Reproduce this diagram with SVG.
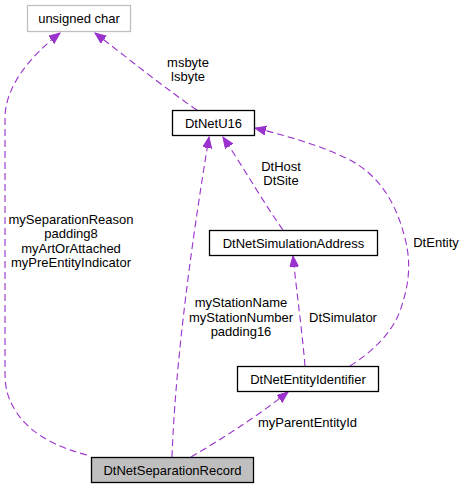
<svg xmlns="http://www.w3.org/2000/svg" width="467" height="488" viewBox="0 0 467 488">
<style>
text{font-family:"Liberation Sans",Arial,sans-serif;font-size:13px;fill:#000;}
.n{text-anchor:middle;}
.box{fill:#fff;stroke:#000;stroke-width:1.3;}
.e{fill:none;stroke:#9a32cd;stroke-width:1.1;stroke-dasharray:7,4;}
.l{text-anchor:middle;}
</style>
<defs>
<marker id="ah" markerWidth="12" markerHeight="10" refX="11" refY="4.5" orient="auto" markerUnits="userSpaceOnUse">
<polygon points="0,0 11,4.5 0,9" fill="#9a32cd" stroke="#9a32cd" stroke-width="1"/>
</marker>
</defs>
<rect width="467" height="488" fill="#fff"/>
<g id="connectors">
<path class="e" marker-end="url(#ah)" d="M87,455 C55,447 28,432 15,410 C6,395 5,385 5,370 L5,118 C5,88 28,58 60,33"/>
<path class="e" marker-end="url(#ah)" d="M197,110 C170,92 130,60 95,33"/>
<path class="e" marker-end="url(#ah)" d="M172,457 C174,400 182,300 209,137"/>
<path class="e" marker-end="url(#ah)" d="M283,230 C265,205 245,170 223,137"/>
<path class="e" marker-end="url(#ah)" d="M350,366 C372,352 392,333 400,311 C411,280 411,257 403,231 C395,203 380,176 350,160 C326,148 296,138 255,128"/>
<path class="e" marker-end="url(#ah)" d="M305,366 C302,330 297,295 293,256"/>
<path class="e" marker-end="url(#ah)" d="M191,457 C220,440 255,418 288,392"/>
<text class="l" x="71" y="223.5">mySeparationReason</text>
<text class="l" x="71" y="238">padding8</text>
<text class="l" x="71" y="252.5">myArtOrAttached</text>
<text class="l" x="71" y="267">myPreEntityIndicator</text>
<text class="l" x="188" y="66.5">msbyte</text>
<text class="l" x="188" y="80.5">lsbyte</text>
<text class="l" x="281" y="171">DtHost</text>
<text class="l" x="281" y="185">DtSite</text>
<text class="l" x="436" y="246.5">DtEntity</text>
<text class="l" x="343" y="321.5">DtSimulator</text>
<text class="l" x="241" y="307">myStationName</text>
<text class="l" x="241" y="321.5">myStationNumber</text>
<text class="l" x="241" y="336">padding16</text>
<text class="l" x="307.5" y="426.5">myParentEntityId</text>
</g>
<g id="node-unsigned-char">
<rect x="27.5" y="5.5" width="103" height="26" fill="#fff" stroke="#bfbfbf" stroke-width="1.3"/>
<text class="n" x="79" y="23">unsigned char</text>
</g>
<g id="node-DtNetU16">
<rect class="box" x="172.5" y="110.5" width="82" height="25"/>
<text class="n" x="213.5" y="127.5">DtNetU16</text>
</g>
<g id="node-DtNetSimulationAddress">
<rect class="box" x="209.5" y="230.5" width="168" height="25"/>
<text class="n" x="293.5" y="247.5">DtNetSimulationAddress</text>
</g>
<g id="node-DtNetEntityIdentifier">
<rect class="box" x="237.5" y="366.5" width="141" height="25"/>
<text class="n" x="308" y="383.5">DtNetEntityIdentifier</text>
</g>
<g id="node-DtNetSeparationRecord">
<rect x="91.5" y="457.5" width="162" height="25" fill="#bfbfbf" stroke="#000" stroke-width="1.3"/>
<text class="n" x="172.5" y="474.5">DtNetSeparationRecord</text>
</g>
</svg>
